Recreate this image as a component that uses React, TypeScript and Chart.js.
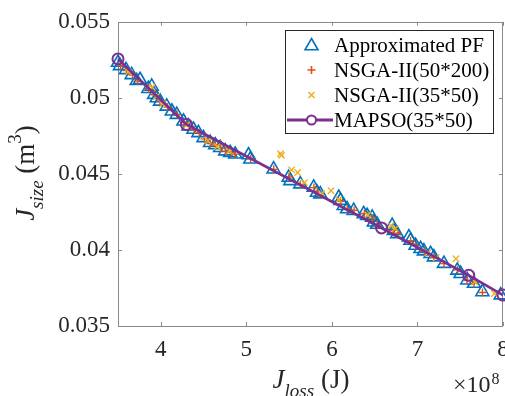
import React, { useEffect, useRef } from "react";
import { Chart, registerables } from "chart.js";

Chart.register(...registerables);

const X_TICKS = [4, 5, 6, 7, 8];
const Y_TICKS = [0.035, 0.04, 0.045, 0.05, 0.055];

const PF_X = [
  3.5, 3.523, 3.594, 3.66, 3.719, 3.758, 3.855, 3.894, 3.922, 3.953, 3.992, 4.07,
  4.129, 4.187, 4.265, 4.323, 4.382, 4.44, 4.499, 4.577, 4.636, 4.694, 4.753, 4.811,
  4.87, 5.026, 5.046, 5.319, 5.494, 5.514, 5.631, 5.787, 5.826, 5.865, 6.08, 6.1,
  6.138, 6.178, 6.255, 6.372, 6.412, 6.471, 6.49, 6.529, 6.705, 6.724, 6.763, 6.9,
  6.919, 6.978, 7.036, 7.075, 7.153, 7.192, 7.31, 7.466, 7.505, 7.583, 7.661, 7.759,
  7.973,
];
const PF_Y = [
  0.05232, 0.0521, 0.05184, 0.05151, 0.05112, 0.05119, 0.0506, 0.05075, 0.05021, 0.04999,
  0.04977, 0.04944, 0.04912, 0.0489, 0.04846, 0.04814, 0.04792, 0.0477, 0.04737, 0.04705,
  0.0469, 0.04672, 0.0465, 0.04639, 0.04629, 0.04624, 0.04596, 0.04531, 0.04476, 0.04454,
  0.04433, 0.04411, 0.04378, 0.04367, 0.04345, 0.04324, 0.04291, 0.04269, 0.04258, 0.04237,
  0.04225, 0.04214, 0.04182, 0.04167, 0.0416, 0.04127, 0.04106, 0.04084, 0.04062, 0.04029,
  0.04008, 0.03992, 0.03975, 0.03953, 0.0391, 0.03866, 0.03844, 0.03801, 0.03779, 0.03724,
  0.03703,
];

const NSGA200_X = [
  3.53, 3.6, 3.67, 3.73, 3.86, 3.93, 3.99, 4.08, 4.19, 4.27, 4.39, 4.45, 4.51, 4.58,
  4.64, 4.7, 4.76, 4.82, 4.87, 5.05, 5.32, 5.5, 5.63, 5.79, 5.83, 6.1, 6.18, 6.26,
  6.38, 6.47, 6.53, 6.72, 6.77, 6.92, 6.98, 7.08, 7.19, 7.31, 7.47, 7.58, 7.66, 7.76,
];
const NSGA200_Y = [
  0.0521, 0.0518, 0.0515, 0.0511, 0.0506, 0.0502, 0.0498, 0.0494, 0.0489, 0.0484, 0.0479,
  0.0477, 0.0473, 0.047, 0.0469, 0.0467, 0.0465, 0.0464, 0.0463, 0.046, 0.0453, 0.0448,
  0.0443, 0.0441, 0.0438, 0.0432, 0.0427, 0.0426, 0.0424, 0.0421, 0.0417, 0.0413, 0.0411,
  0.0406, 0.0403, 0.0399, 0.0395, 0.0391, 0.0387, 0.038, 0.0378, 0.0372,
];

const NSGA50_X = [
  5.4, 5.41, 5.53, 5.6, 5.68, 5.99, 7.45, 7.9, 3.62, 3.9, 3.95, 4.02, 4.3, 4.55, 4.66,
  4.8, 5.88, 6.08, 6.42, 6.69, 6.74, 7.12, 7.22, 7.67,
];
const NSGA50_Y = [
  0.04633, 0.04622, 0.04526, 0.04509, 0.04443, 0.04389, 0.03942, 0.03714, 0.0517, 0.0507,
  0.0501, 0.0496, 0.0482, 0.0472, 0.0468, 0.0465, 0.0437, 0.0433, 0.0423, 0.0416, 0.0414,
  0.0398, 0.0395, 0.0379,
];

const MAPSO_X = [3.5, 4.3, 6.58, 7.6, 8.0];
const MAPSO_Y = [0.05256, 0.04825, 0.04145, 0.03833, 0.03703];

const LEGEND_LABELS = ["Approximated PF", "NSGA-II(50*200)", "NSGA-II(35*50)", "MAPSO(35*50)"];

const BLUE = "#0072BD";
const ORANGE = "#D95319";
const YELLOW = "#EDB120";
const PURPLE = "#7E2F8E";
const AXIS = "#8a8a8a";
const TEXT = "#262626";
const SERIF = '"Liberation Serif", "Times New Roman", serif';

function pts(xs: number[], ys: number[]) {
  return xs.map((x, i) => ({ x, y: ys[i] }));
}

function drawTri(ctx: CanvasRenderingContext2D, x: number, y: number, r: number) {
  ctx.beginPath();
  for (let k = 0; k < 3; k++) {
    const a = (k * 2 * Math.PI) / 3;
    const px = x + Math.sin(a) * r;
    const py = y - Math.cos(a) * r;
    if (k === 0) ctx.moveTo(px, py);
    else ctx.lineTo(px, py);
  }
  ctx.closePath();
  ctx.stroke();
}

export default function App() {
  const ref = useRef<HTMLCanvasElement>(null);

  useEffect(() => {
    const canvas = ref.current;
    if (!canvas) return;

    const framePlugin = {
      id: "frame",
      beforeDatasetsDraw(chart: any) {
        const { ctx, chartArea: a, scales } = chart;
        ctx.save();
        ctx.strokeStyle = AXIS;
        ctx.lineWidth = 1;
        ctx.strokeRect(Math.round(a.left) + 0.5, Math.round(a.top) + 0.5, Math.round(a.right - a.left) - 1, Math.round(a.bottom - a.top));
        const tl = 4;
        ctx.beginPath();
        X_TICKS.forEach((v) => {
          const px = Math.round(scales.x.getPixelForValue(v)) + 0.5;
          ctx.moveTo(px, a.bottom);
          ctx.lineTo(px, a.bottom - tl);
          ctx.moveTo(px, a.top);
          ctx.lineTo(px, a.top + tl);
        });
        Y_TICKS.forEach((v) => {
          const py = Math.round(scales.y.getPixelForValue(v)) + 0.5;
          ctx.moveTo(a.left, py);
          ctx.lineTo(a.left + tl, py);
          ctx.moveTo(a.right, py);
          ctx.lineTo(a.right - tl, py);
        });
        ctx.stroke();
        ctx.restore();
      },
      afterDraw(chart: any) {
        const { ctx } = chart;
        ctx.save();
        // Legend
        const lx = 285, ly = 30, lw = 208, lh = 103;
        ctx.fillStyle = "#fff";
        ctx.fillRect(lx, ly, lw, lh);
        ctx.strokeStyle = TEXT;
        ctx.lineWidth = 1;
        ctx.strokeRect(lx + 0.5, ly + 0.5, lw, lh);
        const rows = [45, 70, 95, 120];
        const mx = 311.5;
        ctx.lineWidth = 1.6;
        ctx.strokeStyle = BLUE;
        drawTri(ctx, mx, rows[0] + 1, 7.5);
        ctx.strokeStyle = ORANGE;
        ctx.beginPath();
        ctx.moveTo(mx - 4, rows[1]); ctx.lineTo(mx + 4, rows[1]);
        ctx.moveTo(mx, rows[1] - 4); ctx.lineTo(mx, rows[1] + 4);
        ctx.stroke();
        ctx.strokeStyle = YELLOW;
        ctx.beginPath();
        ctx.moveTo(mx - 3, rows[2] - 3); ctx.lineTo(mx + 3, rows[2] + 3);
        ctx.moveTo(mx + 3, rows[2] - 3); ctx.lineTo(mx - 3, rows[2] + 3);
        ctx.stroke();
        ctx.strokeStyle = PURPLE;
        ctx.lineWidth = 2.8;
        ctx.beginPath();
        ctx.moveTo(287, rows[3]); ctx.lineTo(333, rows[3]);
        ctx.stroke();
        ctx.lineWidth = 2;
        ctx.fillStyle = "#fff";
        ctx.beginPath();
        ctx.arc(mx, rows[3], 4.5, 0, Math.PI * 2);
        ctx.fill();
        ctx.stroke();
        ctx.fillStyle = "#000";
        ctx.font = `21px ${SERIF}`;
        ctx.textAlign = "left";
        ctx.textBaseline = "middle";
        LEGEND_LABELS.forEach((t, i) => ctx.fillText(t, 334, rows[i] + 1));

        // X title
        ctx.fillStyle = TEXT;
        ctx.textBaseline = "alphabetic";
        const big = `27px ${SERIF}`;
        const bigI = `italic 27px ${SERIF}`;
        const subI = `italic 19px ${SERIF}`;
        const parts = [
          { t: "J", f: bigI, dy: 0 },
          { t: "loss", f: subI, dy: 9 },
          { t: " (J)", f: big, dy: 0 },
        ];
        let total = 0;
        parts.forEach((p) => { ctx.font = p.f; total += ctx.measureText(p.t).width; });
        let cx = 311 - total / 2;
        parts.forEach((p) => {
          ctx.font = p.f;
          ctx.fillText(p.t, cx, 388 + p.dy);
          cx += ctx.measureText(p.t).width;
        });

        // x10^8
        ctx.font = `24px ${SERIF}`;
        ctx.fillText("\u00d710", 453, 392);
        const w10 = ctx.measureText("\u00d710").width;
        ctx.font = `16px ${SERIF}`;
        ctx.fillText("8", 453 + w10 + 1, 384);

        // Y title
        ctx.translate(34, 173);
        ctx.rotate(-Math.PI / 2);
        const yparts = [
          { t: "J", f: bigI, dy: 0 },
          { t: "size", f: subI, dy: 9 },
          { t: " (m", f: big, dy: 0 },
          { t: "3", f: `19px ${SERIF}`, dy: -13 },
          { t: ")", f: big, dy: 0 },
        ];
        total = 0;
        yparts.forEach((p) => { ctx.font = p.f; total += ctx.measureText(p.t).width; });
        cx = -total / 2;
        yparts.forEach((p) => {
          ctx.font = p.f;
          ctx.fillText(p.t, cx, p.dy);
          cx += ctx.measureText(p.t).width;
        });
        ctx.restore();
      },
    };

    const chart = new Chart(canvas, {
      type: "scatter",
      data: {
        datasets: [
          {
            label: LEGEND_LABELS[0],
            data: pts(PF_X, PF_Y),
            pointStyle: "triangle",
            pointRadius: 7.5,
            pointBorderWidth: 1.6,
            borderColor: BLUE,
            backgroundColor: "rgba(0,0,0,0)",
            showLine: false,
            order: 4,
            clip: false,
          } as any,
          {
            label: LEGEND_LABELS[1],
            data: pts(NSGA200_X, NSGA200_Y),
            pointStyle: "cross",
            pointRadius: 4,
            pointBorderWidth: 1.4,
            borderColor: ORANGE,
            backgroundColor: ORANGE,
            showLine: false,
            order: 3,
          },
          {
            label: LEGEND_LABELS[2],
            data: pts(NSGA50_X, NSGA50_Y),
            pointStyle: "crossRot",
            pointRadius: 4.5,
            pointBorderWidth: 1.4,
            borderColor: YELLOW,
            backgroundColor: YELLOW,
            showLine: false,
            order: 2,
          },
          {
            label: LEGEND_LABELS[3],
            data: pts(MAPSO_X, MAPSO_Y),
            showLine: true,
            borderColor: PURPLE,
            borderWidth: 2.8,
            pointStyle: "circle",
            pointRadius: 5.5,
            pointBorderWidth: 2,
            pointBackgroundColor: "rgba(0,0,0,0)",
            pointBorderColor: PURPLE,
            backgroundColor: "rgba(0,0,0,0)",
            order: 1,
            clip: false,
          } as any,
        ],
      },
      options: {
        animation: false,
        responsive: false,
        devicePixelRatio: 1,
        layout: { padding: { top: 20, right: 17, bottom: 0, left: 0 } },
        plugins: { legend: { display: false }, tooltip: { enabled: false } },
        scales: {
          x: {
            type: "linear",
            min: 3.5,
            max: 8,
            afterBuildTicks: (s: any) => { s.ticks = X_TICKS.map((v) => ({ value: v })); },
            afterFit: (s: any) => { s.height = 70; },
            grid: { display: false, drawTicks: false },
            border: { display: false },
            ticks: {
              color: TEXT,
              padding: 10,
              maxRotation: 0,
              autoSkip: false,
              font: { family: SERIF, size: 23 },
              callback: (v: any) => String(v),
            },
          },
          y: {
            type: "linear",
            min: 0.035,
            max: 0.055,
            afterBuildTicks: (s: any) => { s.ticks = Y_TICKS.map((v) => ({ value: v })); },
            afterFit: (s: any) => { s.width = 118; },
            grid: { display: false, drawTicks: false },
            border: { display: false },
            ticks: {
              color: TEXT,
              padding: 8,
              autoSkip: false,
              font: { family: SERIF, size: 23 },
              callback: (v: any) => String(v),
            },
          },
        },
      },
      plugins: [framePlugin],
    });

    return () => chart.destroy();
  }, []);

  return (
    <div style={{ position: "fixed", left: 0, top: 0, width: 505, height: 396, overflow: "hidden", background: "#fff" }}>
      <canvas ref={ref} width={520} height={396} style={{ display: "block", width: 520, height: 396 }} />
    </div>
  );
}
